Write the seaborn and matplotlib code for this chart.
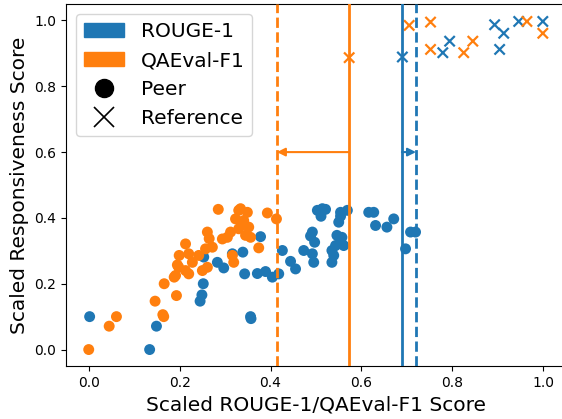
import pandas as pd
import seaborn as sns
import matplotlib
matplotlib.use("Agg")
import matplotlib.pyplot as plt
from matplotlib.patches import Patch
from matplotlib.lines import Line2D

# --- data ---
rouge_peer_x = [0.002, 0.134, 0.149, 0.245, 0.249, 0.252, 0.253, 0.283, 0.297, 0.316,
                0.339, 0.343, 0.356, 0.357, 0.371, 0.378, 0.389, 0.404, 0.418, 0.426,
                0.444, 0.455, 0.473, 0.488, 0.492, 0.497, 0.492, 0.495, 0.503, 0.514,
                0.521, 0.511, 0.546, 0.554, 0.557, 0.543, 0.561, 0.535, 0.539, 0.535,
                0.550, 0.554, 0.554, 0.569, 0.616, 0.627, 0.631, 0.656, 0.671, 0.697,
                0.708, 0.719]
rouge_peer_y = [0.100, 0.000, 0.071, 0.147, 0.166, 0.200, 0.281, 0.265, 0.248, 0.291,
                0.296, 0.230, 0.100, 0.094, 0.231, 0.343, 0.237, 0.220, 0.230, 0.301,
                0.268, 0.245, 0.301, 0.345, 0.357, 0.326, 0.291, 0.265, 0.423, 0.428,
                0.426, 0.405, 0.347, 0.336, 0.341, 0.316, 0.316, 0.301, 0.286, 0.265,
                0.387, 0.405, 0.417, 0.423, 0.417, 0.417, 0.377, 0.372, 0.397, 0.306,
                0.357, 0.357]

qa_peer_x = [0.000, 0.045, 0.061, 0.146, 0.163, 0.165, 0.166, 0.193, 0.191, 0.198,
             0.199, 0.213, 0.213, 0.220, 0.220, 0.228, 0.242, 0.250, 0.261, 0.257,
             0.261, 0.265, 0.272, 0.285, 0.294, 0.305, 0.312, 0.316, 0.319, 0.323,
             0.330, 0.330, 0.334, 0.338, 0.341, 0.345, 0.349, 0.352, 0.356, 0.374,
             0.393, 0.413, 0.188, 0.195]
qa_peer_y = [0.000, 0.071, 0.100, 0.147, 0.106, 0.100, 0.200, 0.164, 0.225, 0.250,
             0.286, 0.240, 0.321, 0.230, 0.291, 0.265, 0.286, 0.240, 0.250, 0.306,
             0.357, 0.337, 0.311, 0.426, 0.336, 0.341, 0.357, 0.286, 0.265, 0.397,
             0.367, 0.423, 0.428, 0.387, 0.392, 0.347, 0.417, 0.372, 0.341, 0.309,
             0.415, 0.397, 0.220, 0.257]

rouge_ref_x = [0.690, 0.779, 0.794, 0.893, 0.913, 0.904, 0.946, 0.999]
rouge_ref_y = [0.889, 0.902, 0.937, 0.987, 0.961, 0.912, 0.997, 0.997]
qa_ref_x = [0.573, 0.705, 0.752, 0.752, 0.825, 0.845, 0.964, 0.999]
qa_ref_y = [0.887, 0.985, 0.995, 0.912, 0.902, 0.937, 0.997, 0.961]

# thresholds (solid = reference min, dashed = shifted)
rouge_solid, rouge_dashed = 0.689, 0.720
qa_solid, qa_dashed = 0.573, 0.414
arrow_y = 0.6

blue = "#1f77b4"
orange = "#ff7f0e"

peers = pd.concat([
    pd.DataFrame({"x": rouge_peer_x, "y": rouge_peer_y, "metric": "ROUGE-1"}),
    pd.DataFrame({"x": qa_peer_x, "y": qa_peer_y, "metric": "QAEval-F1"}),
])
refs = pd.concat([
    pd.DataFrame({"x": rouge_ref_x, "y": rouge_ref_y, "metric": "ROUGE-1"}),
    pd.DataFrame({"x": qa_ref_x, "y": qa_ref_y, "metric": "QAEval-F1"}),
])
palette = {"ROUGE-1": blue, "QAEval-F1": orange}

fig = plt.figure(figsize=(5.62, 4.19), dpi=100)
ax = fig.add_axes([66 / 562, 1 - 366 / 419, 500 / 562, 362 / 419])

sns.scatterplot(data=peers, x="x", y="y", hue="metric", palette=palette,
                s=62, linewidth=0, ax=ax, legend=False, zorder=2)
sns.scatterplot(data=refs, x="x", y="y", hue="metric", palette=palette,
                marker="x", s=55, linewidth=1.6, ax=ax, legend=False, zorder=2)

ax.axvline(rouge_solid, color=blue, lw=2, zorder=3)
ax.axvline(rouge_dashed, color=blue, lw=2, ls="--", zorder=3)
ax.axvline(qa_solid, color=orange, lw=2, zorder=3)
ax.axvline(qa_dashed, color=orange, lw=2, ls="--", zorder=3)

ax.annotate("", xy=(qa_dashed, arrow_y), xytext=(qa_solid, arrow_y),
            arrowprops=dict(arrowstyle="-|>", color=orange, lw=1.5,
                            mutation_scale=12, shrinkA=0, shrinkB=0), zorder=4)
ax.annotate("", xy=(rouge_dashed, arrow_y), xytext=(rouge_solid, arrow_y),
            arrowprops=dict(arrowstyle="-|>", color=blue, lw=1.5,
                            mutation_scale=12, shrinkA=0, shrinkB=0), zorder=4)

ax.set_xlim(-0.05, 1.05)
ax.set_ylim(-0.05, 1.05)
ax.set_xticks([0.0, 0.2, 0.4, 0.6, 0.8, 1.0])
ax.set_yticks([0.0, 0.2, 0.4, 0.6, 0.8, 1.0])
ax.tick_params(labelsize=10)
ax.spines["right"].set_visible(False)
ax.set_xlabel("Scaled ROUGE-1/QAEval-F1 Score", fontsize=14.5)
ax.set_ylabel("Scaled Responsiveness Score", fontsize=14.5)

handles = [
    Patch(color=blue, label="ROUGE-1"),
    Patch(color=orange, label="QAEval-F1"),
    Line2D([], [], color="black", marker="o", ls="", markersize=13, label="Peer"),
    Line2D([], [], color="black", marker="x", ls="", markersize=14, mew=1.2, label="Reference"),
]
ax.legend(handles=handles, loc="upper left", fontsize=14.5)

fig.savefig("out.png", dpi=100)
